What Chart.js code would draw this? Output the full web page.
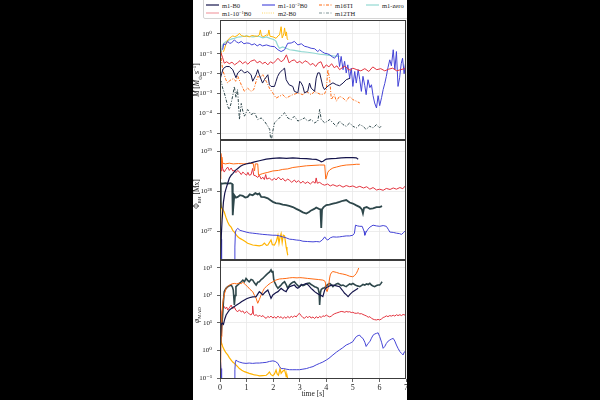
<!DOCTYPE html>
<html>
<head>
<meta charset="utf-8">
<script src="https://cdn.jsdelivr.net/npm/chart.js@4.4.1/dist/chart.umd.min.js"></script>
<style>
html, body { margin: 0; padding: 0; background: #000; width: 600px; height: 400px; overflow: hidden; }
#paper { position: absolute; left: 193px; top: 0; width: 214px; height: 400px; background: #fff; }
canvas { position: absolute; left: 193px; }
#c1 { top: 14px; }
#c2 { top: 134px; }
#c3 { top: 254px; }
#edge { position: absolute; left: 407px; top: 0; width: 193px; height: 400px; background: #000; z-index: 9; }
#legend { position: absolute; left: 203px; top: -2px; width: 215px; height: 19px; border: 1px solid #d4d4d4; border-radius: 2px; background: #fff; z-index: 3; }
.lg { position: absolute; font-family: "Liberation Serif", serif; font-size: 6.5px; line-height: 7px; color: #222; white-space: nowrap; }
.lg sup { font-size: 4.5px; line-height: 0; vertical-align: 2px; }
.sample { position: absolute; }
.ytitle { position: absolute; font-family: "Liberation Serif", serif; font-size: 7.5px; color: #222; white-space: nowrap; transform: translate(-50%, -50%) rotate(-90deg); z-index: 4; }
.ytitle sub { font-size: 5px; }
.ytitle sup { font-size: 5px; }
</style>
</head>
<body>
<div id="paper"></div>
<div id="legend"></div>
<canvas id="c1" width="216" height="130"></canvas>
<canvas id="c2" width="216" height="130"></canvas>
<canvas id="c3" width="216" height="146"></canvas>
<div class="ytitle" style="left:197px; top:80px;"><i>Ṁ</i> [<i>M</i><sub>⊙</sub> s<sup>−1</sup>]</div>
<div class="ytitle" style="left:197px; top:194px;">Φ<sub>BH</sub> [Mx]</div>
<div class="ytitle" style="left:197px; top:315px;"><i>φ</i><sub>MAD</sub></div>
<div id="edge"></div>
<script>
// accretion rate [Msun/s] vs time [s]
const mdot_m1B0 = [[0.0,5.0e-3],[0.06,1.0e-2],[0.12,1.8e-2],[0.23,2.3e-2],[0.35,2.3e-2],[0.48,1.6e-2],[0.6,6.3e-3],[0.67,1.1e-2],[0.8,1.6e-2],[0.92,1.1e-2],[1.04,1.3e-2],[1.17,8.9e-3],[1.23,4.2e-3],[1.36,8.9e-3],[1.42,1.6e-2],[1.48,8.9e-3],[1.6,3.4e-3],[1.67,5.0e-3],[1.8,8.9e-3],[1.86,2.8e-3],[1.92,2.3e-3],[2.05,2.3e-3],[2.11,4.2e-3],[2.17,7.4e-3],[2.24,1.1e-2],[2.36,1.6e-2],[2.43,1.9e-2],[2.49,5.0e-3],[2.6,2.8e-3],[2.74,2.3e-3],[2.8,1.3e-3],[2.93,1.1e-3],[3.0,4.2e-3],[3.06,3.4e-3],[3.12,2.3e-3],[3.18,1.1e-3],[3.3,1.3e-3],[3.37,3.4e-3],[3.43,1.9e-3],[3.56,1.3e-3],[3.62,6.0e-3],[3.68,1.1e-2],[3.75,1.1e-2],[3.87,2.3e-3],[3.93,1.6e-3],[4.03,2.2e-3],[4.13,2.8e-3],[4.25,3.5e-3],[4.38,2.8e-3],[4.5,2.5e-3],[4.63,3.4e-3],[4.75,5.0e-3],[4.9,6.0e-3]];
const mdot_m1B0e1 = [[0.0,5.0e-2],[0.04,1.1e-1],[0.1,6.3e-2],[0.16,3.4e-2],[0.25,4.0e-2],[0.35,3.2e-2],[0.45,3.8e-2],[0.55,2.8e-2],[0.65,3.5e-2],[0.75,4.5e-2],[0.85,3.2e-2],[0.95,4.0e-2],[1.05,3.0e-2],[1.15,4.2e-2],[1.3,5.0e-2],[1.4,3.5e-2],[1.5,4.2e-2],[1.6,3.2e-2],[1.7,3.8e-2],[1.8,2.8e-2],[1.9,4.0e-2],[2.0,3.3e-2],[2.1,4.5e-2],[2.18,6.0e-2],[2.3,4.0e-2],[2.4,5.0e-2],[2.5,8.9e-2],[2.6,3.5e-2],[2.7,4.5e-2],[2.8,5.0e-2],[2.9,3.5e-2],[3.0,4.2e-2],[3.1,3.3e-2],[3.2,4.5e-2],[3.3,3.8e-2],[3.4,2.8e-2],[3.5,3.3e-2],[3.6,2.3e-2],[3.7,3.5e-2],[3.8,4.0e-2],[3.9,1.9e-2],[4.0,2.8e-2],[4.1,2.2e-2],[4.2,3.2e-2],[4.3,2.0e-2],[4.4,2.5e-2],[4.5,1.6e-2],[4.6,2.0e-2],[4.7,2.4e-2],[4.8,1.8e-2],[4.9,1.5e-2],[5.0,1.9e-2],[5.15,1.6e-2],[5.3,1.4e-2],[5.45,1.8e-2],[5.6,1.3e-2],[5.75,2.2e-2],[5.9,1.6e-2],[6.05,1.8e-2],[6.2,1.4e-2],[6.35,1.7e-2],[6.5,1.9e-2],[6.65,1.4e-2],[6.8,1.6e-2],[6.95,1.8e-2],[7.0,2.0e-2]];
const mdot_m1B0e2 = [[0.1,0.16],[0.14,0.32],[0.2,0.28],[0.29,0.42],[0.35,0.35],[0.42,0.34],[0.54,0.5],[0.62,0.4],[0.7,0.35],[0.8,0.42],[0.9,0.32],[1.0,0.35],[1.1,0.34],[1.2,0.28],[1.3,0.32],[1.4,0.25],[1.5,0.3],[1.6,0.25],[1.75,0.28],[1.9,0.24],[2.05,0.23],[2.18,0.16],[2.3,0.13],[2.43,0.16],[2.55,0.34],[2.68,0.35],[2.8,0.42],[2.93,0.28],[3.06,0.32],[3.18,0.24],[3.3,0.22],[3.43,0.19],[3.56,0.18],[3.68,0.13],[3.75,0.16],[3.85,0.126],[3.94,0.107],[4.05,0.1],[4.13,0.089],[4.22,0.071],[4.31,0.06],[4.38,0.079],[4.44,0.107],[4.5,0.023],[4.56,0.074],[4.63,0.016],[4.69,0.042],[4.75,0.011],[4.81,0.028],[4.88,0.006],[4.94,0.019],[5.0,0.0023],[5.07,0.013],[5.13,0.0034],[5.2,0.016],[5.26,0.005],[5.32,0.0013],[5.38,0.0074],[5.45,0.0025],[5.5,0.00089],[5.57,0.005],[5.64,0.002],[5.7,0.0028],[5.76,0.00079],[5.82,0.00034],[5.89,0.00019],[5.95,0.00079],[6.01,0.00025],[6.08,0.00063],[6.14,0.0016],[6.2,0.0032],[6.26,0.0074],[6.32,0.02],[6.39,0.05],[6.45,0.025],[6.52,0.16],[6.58,0.016],[6.64,0.13],[6.7,0.0023],[6.76,0.0063],[6.82,0.032],[6.87,0.06],[6.93,0.01],[6.98,0.032],[7.02,0.016]];
const mdot_m16TI = [[0.0,1.6],[0.02,0.32],[0.05,0.05],[0.1,0.016],[0.16,0.0089],[0.22,0.005],[0.29,0.0034],[0.36,0.0045],[0.42,0.005],[0.5,0.0056],[0.6,0.0042],[0.67,0.0074],[0.8,0.0028],[0.92,0.0013],[1.04,0.0019],[1.17,0.0013],[1.27,0.0016],[1.36,0.0042],[1.42,0.0074],[1.5,0.0063],[1.61,0.0089],[1.74,0.0042],[1.86,0.0019],[1.99,0.00107],[2.11,0.0006],[2.24,0.00074],[2.36,0.00089],[2.49,0.0006],[2.62,0.00074],[2.74,0.00089],[2.93,0.00107],[3.12,0.00089],[3.25,0.0013],[3.43,0.00089],[3.56,0.0013],[3.68,0.00107],[3.8,0.00089],[3.94,0.001],[4.0,0.0016],[4.06,0.016],[4.13,0.005],[4.19,0.0005],[4.3,0.00089],[4.38,0.00042],[4.5,0.00074],[4.63,0.0006],[4.75,0.00042],[4.88,0.00074],[5.0,0.0005],[5.13,0.00042],[5.26,0.00034]];
const mdot_m12TH = [[0.0,5.0e-3],[0.05,4.0e-3],[0.1,1.9e-3],[0.16,1.1e-3],[0.23,5.0e-4],[0.29,2.3e-4],[0.35,1.6e-4],[0.42,3.4e-4],[0.48,7.9e-4],[0.54,2.3e-3],[0.6,6.3e-4],[0.66,1.6e-3],[0.7,2.5e-4],[0.73,5.0e-5],[0.8,3.2e-4],[0.86,1.3e-4],[0.92,7.4e-5],[1.04,1.6e-4],[1.17,8.9e-5],[1.3,1.1e-4],[1.42,5.0e-5],[1.55,6.0e-5],[1.67,4.2e-5],[1.8,2.3e-5],[1.87,1.6e-5],[1.92,3.2e-6],[1.97,1.0e-5],[2.05,3.4e-5],[2.18,5.0e-5],[2.3,7.4e-5],[2.43,1.1e-4],[2.55,6.0e-5],[2.68,5.0e-5],[2.8,7.4e-5],[2.93,4.2e-5],[3.06,5.0e-5],[3.18,6.0e-5],[3.3,4.2e-5],[3.43,5.0e-5],[3.56,3.4e-5],[3.68,4.2e-5],[3.75,1.6e-4],[3.81,5.0e-5],[3.94,3.4e-5],[4.05,4.2e-5],[4.13,5.0e-5],[4.25,3.4e-5],[4.38,2.3e-5],[4.5,4.2e-5],[4.63,2.8e-5],[4.75,2.3e-5],[4.88,3.4e-5],[5.0,2.3e-5],[5.13,1.9e-5],[5.26,2.8e-5],[5.38,2.3e-5],[5.5,1.6e-5],[5.63,2.3e-5],[5.76,1.9e-5],[5.89,2.8e-5],[6.0,1.9e-5],[6.06,2.3e-5]];
const mdot_m1zero = [[0.04,0.107],[0.1,0.28],[0.16,0.35],[0.23,0.42],[0.35,0.5],[0.45,0.56],[0.54,0.6],[0.65,0.68],[0.75,0.71],[0.86,0.74],[1.0,0.79],[1.1,0.74],[1.23,0.71],[1.35,0.76],[1.48,0.74],[1.61,0.63],[1.75,0.71],[1.88,0.6],[1.99,0.54],[2.05,0.5],[2.11,0.42],[2.18,0.25],[2.24,0.19],[2.36,0.22],[2.49,0.19],[2.62,0.16],[2.8,0.148],[3.06,0.13],[3.3,0.12],[3.56,0.107],[3.75,0.095],[4.0,0.089],[4.25,0.079],[4.5,0.074]];
const mdot_m2B0 = [[0.12,0.126],[0.16,0.16],[0.23,0.34],[0.3,0.5],[0.35,0.6],[0.42,0.71],[0.48,0.79],[0.55,0.74],[0.6,0.76],[0.68,0.89],[0.73,1.07],[0.8,0.83],[0.92,0.74],[1.0,0.79],[1.1,0.71],[1.2,0.83],[1.3,0.79],[1.4,0.76],[1.48,0.89],[1.52,1.58],[1.56,0.79],[1.65,0.74],[1.75,0.89],[1.8,0.83],[1.84,1.58],[1.88,0.76],[2.0,0.71],[2.11,0.6],[2.18,0.79],[2.24,0.89],[2.3,2.3],[2.34,0.63],[2.4,1.0],[2.43,2.0],[2.47,0.79],[2.5,1.26],[2.53,0.56],[2.56,0.5]];

// magnetic flux on the black hole [Mx]
const phi_m1B0 = [[0.02,2.0e26],[0.05,7.9e26],[0.08,2.0e27],[0.13,5.4e27],[0.18,8.9e27],[0.23,1.17e28],[0.29,1.58e28],[0.35,2.1e28],[0.42,2.5e28],[0.48,2.75e28],[0.58,3.3e28],[0.67,3.7e28],[0.77,4.2e28],[0.86,4.5e28],[1.04,4.9e28],[1.17,5.1e28],[1.3,5.4e28],[1.48,5.75e28],[1.74,6.3e28],[1.99,6.6e28],[2.24,6.8e28],[2.5,6.6e28],[2.74,6.8e28],[3.0,6.6e28],[3.25,6.5e28],[3.45,6.3e28],[3.62,6.2e28],[3.75,5.75e28],[3.81,5.4e28],[3.88,5.6e28],[3.94,6.0e28],[4.0,6.3e28],[4.19,6.5e28],[4.38,6.6e28],[4.56,6.8e28],[4.75,6.9e28],[5.0,6.9e28],[5.13,6.8e28],[5.2,6.3e28]];
const phi_m16TI = [[0.01,2.0e28],[0.03,8.9e28],[0.05,4.0e28],[0.07,7.1e28],[0.1,5.0e28],[0.2,4.8e28],[0.35,5.0e28],[0.5,4.8e28],[0.7,4.9e28],[0.9,4.8e28],[1.1,5.0e28],[1.25,4.9e28],[1.3,3.2e28],[1.33,4.8e28],[1.42,4.8e28],[1.45,2.5e28],[1.5,2.6e28],[1.61,2.75e28],[1.8,2.95e28],[1.99,3.2e28],[2.2,3.3e28],[2.36,3.5e28],[2.55,3.6e28],[2.74,3.9e28],[3.0,4.1e28],[3.25,4.3e28],[3.5,4.4e28],[3.75,4.5e28],[3.94,4.5e28],[3.98,2.0e28],[4.02,2.4e28],[4.06,3.0e28],[4.13,3.4e28],[4.25,3.8e28],[4.38,4.0e28],[4.56,4.3e28],[4.75,4.5e28],[5.0,4.6e28],[5.13,4.7e28],[5.26,4.7e28]];
const phi_m1B0e1 = [[0.01,4.0e28],[0.03,8.3e28],[0.05,3.2e28],[0.07,5.6e28],[0.1,3.7e28],[0.16,3.0e28],[0.22,3.5e28],[0.29,4.0e28],[0.35,3.3e28],[0.42,3.8e28],[0.48,3.2e28],[0.54,3.3e28],[0.6,2.9e28],[0.67,3.3e28],[0.73,3.0e28],[0.8,2.6e28],[0.86,3.0e28],[0.92,2.75e28],[1.0,2.5e28],[1.05,2.95e28],[1.1,2.5e28],[1.17,2.6e28],[1.23,3.7e28],[1.27,2.5e28],[1.35,2.4e28],[1.42,2.2e28],[1.48,2.5e28],[1.55,2.0e28],[1.61,2.24e28],[1.67,1.95e28],[1.72,2.6e28],[1.76,2.0e28],[1.86,2.14e28],[1.95,1.86e28],[2.05,2.1e28],[2.11,1.9e28],[2.2,2.24e28],[2.3,1.9e28],[2.36,2.1e28],[2.45,1.78e28],[2.55,2.0e28],[2.62,1.86e28],[2.7,1.66e28],[2.8,1.9e28],[2.87,1.66e28],[2.95,1.82e28],[3.05,1.58e28],[3.12,1.78e28],[3.2,1.55e28],[3.3,1.7e28],[3.4,1.51e28],[3.5,1.74e28],[3.58,1.58e28],[3.62,2.14e28],[3.66,1.58e28],[3.75,1.66e28],[3.85,1.48e28],[3.94,1.41e28],[4.05,1.51e28],[4.15,1.35e28],[4.25,1.45e28],[4.4,1.32e28],[4.5,1.41e28],[4.63,1.26e28],[4.75,1.38e28],[4.88,1.29e28],[5.0,1.35e28],[5.13,1.23e28],[5.26,1.32e28],[5.4,1.2e28],[5.52,1.29e28],[5.64,1.12e28],[5.76,1.23e28],[5.89,1.07e28],[6.01,1.12e28],[6.14,1.05e28],[6.26,1.17e28],[6.4,1.1e28],[6.52,1.2e28],[6.64,1.12e28],[6.77,1.23e28],[6.88,1.15e28],[6.96,1.32e28],[7.02,1.2e28]];
const phi_m12TH = [[0.01,4.0e27],[0.03,1.58e28],[0.1,1.55e28],[0.2,1.58e28],[0.3,1.55e28],[0.4,1.58e28],[0.46,1.51e28],[0.48,2.5e27],[0.5,4.0e27],[0.54,7.9e27],[0.6,6.9e27],[0.67,7.2e27],[0.75,7.9e27],[0.86,7.6e27],[0.95,6.9e27],[1.04,7.2e27],[1.12,8.3e27],[1.23,7.9e27],[1.33,8.9e27],[1.42,8.3e27],[1.48,8.7e27],[1.55,7.2e27],[1.67,7.1e27],[1.8,6.6e27],[1.9,5.9e27],[1.99,5.4e27],[2.1,5.0e27],[2.24,4.9e27],[2.36,4.6e27],[2.49,4.5e27],[2.6,4.3e27],[2.74,4.0e27],[2.87,3.6e27],[2.99,3.3e27],[3.12,2.95e27],[3.25,2.75e27],[3.35,3.0e27],[3.43,3.3e27],[3.55,3.6e27],[3.62,3.9e27],[3.72,3.6e27],[3.78,3.5e27],[3.81,1.2e27],[3.84,3.5e27],[3.9,4.0e27],[4.0,4.5e27],[4.12,4.6e27],[4.25,4.9e27],[4.38,5.1e27],[4.5,5.4e27],[4.62,5.75e27],[4.75,6.0e27],[4.88,5.2e27],[5.0,4.9e27],[5.13,4.4e27],[5.26,4.0e27],[5.34,3.5e27],[5.38,2.8e27],[5.42,3.8e27],[5.52,4.0e27],[5.64,3.6e27],[5.76,3.7e27],[5.89,4.0e27],[6.01,4.0e27],[6.1,4.2e27]];
const phi_m1B0e2 = [[0.02,1.0e27],[0.04,6.3e26],[0.06,1.0e26],[0.3,null],[0.54,1.0e26],[0.56,4.0e26],[0.58,9.5e26],[0.62,1.1e27],[0.67,1.17e27],[0.75,1.05e27],[0.86,1.0e27],[0.98,9.5e26],[1.1,9.1e26],[1.23,8.9e26],[1.36,8.7e26],[1.48,8.5e26],[1.61,8.3e26],[1.8,8.1e26],[1.99,7.9e26],[2.11,7.9e26],[2.24,7.6e26],[2.36,7.2e26],[2.49,6.8e26],[2.62,6.3e26],[2.74,6.2e26],[2.87,6.0e26],[3.0,5.9e26],[3.12,5.6e26],[3.3,5.5e26],[3.5,5.4e26],[3.62,5.5e26],[3.75,5.4e26],[3.85,6.0e26],[3.94,7.2e26],[4.0,6.3e26],[4.06,6.0e26],[4.15,6.8e26],[4.25,7.2e26],[4.38,7.1e26],[4.5,7.2e26],[4.62,7.4e26],[4.75,7.6e26],[4.88,7.6e26],[5.0,7.9e26],[5.06,8.9e26],[5.1,1.41e27],[5.18,1.35e27],[5.26,1.32e27],[5.35,1.32e27],[5.42,1.0e27],[5.45,7.9e26],[5.5,9.5e26],[5.57,1.12e27],[5.64,1.26e27],[5.76,1.41e27],[5.89,1.35e27],[6.01,1.32e27],[6.14,1.38e27],[6.26,1.32e27],[6.33,1.12e27],[6.39,9.5e26],[6.52,9.3e26],[6.64,8.9e26],[6.75,8.7e26],[6.83,8.3e26],[6.9,9.1e26],[6.96,1.0e27],[7.02,1.07e27]];
const phi_m2B0 = [[0.01,1.58e27],[0.03,5.0e27],[0.06,4.0e27],[0.1,3.5e27],[0.16,3.0e27],[0.22,2.24e27],[0.29,1.7e27],[0.35,1.41e27],[0.42,1.26e27],[0.48,1.05e27],[0.54,9.5e26],[0.6,8.3e26],[0.67,7.2e26],[0.75,6.6e26],[0.86,6.0e26],[0.95,5.5e26],[1.04,5.0e26],[1.15,4.7e26],[1.23,4.5e26],[1.35,4.4e26],[1.48,4.3e26],[1.6,4.5e26],[1.67,5.0e26],[1.75,4.4e26],[1.8,4.5e26],[1.86,5.2e26],[1.92,6.0e26],[1.97,4.6e26],[2.05,4.5e26],[2.12,5.6e26],[2.18,7.9e26],[2.22,5.0e26],[2.26,7.1e26],[2.3,8.7e26],[2.34,5.2e26],[2.38,7.9e26],[2.43,7.6e26],[2.47,5.0e26],[2.49,4.0e26],[2.52,3.2e26],[2.55,2.5e26]];

// MAD parameter
const mad_m1B0 = [[0.02,3.2],[0.04,8.5],[0.08,10],[0.13,8.9],[0.18,14],[0.23,19.5],[0.29,24],[0.35,29.5],[0.45,35],[0.54,40],[0.64,46],[0.73,52],[0.82,60],[0.92,69],[1.0,76],[1.1,83],[1.23,89],[1.36,91],[1.42,112],[1.48,138],[1.55,120],[1.61,105],[1.7,132],[1.8,158],[1.86,112],[1.92,79],[1.99,105],[2.1,126],[2.18,138],[2.3,182],[2.4,151],[2.49,138],[2.55,178],[2.62,209],[2.7,224],[2.8,240],[2.87,200],[2.93,182],[3.0,209],[3.06,240],[3.15,251],[3.25,275],[3.35,224],[3.43,182],[3.5,158],[3.56,138],[3.65,120],[3.75,105],[3.81,100],[3.87,91],[3.94,158],[4.0,191],[4.06,209],[4.15,229],[4.25,240],[4.38,224],[4.5,209],[4.6,158],[4.69,120],[4.76,105],[4.82,91],[4.9,112],[5.0,138],[5.1,158],[5.2,182]];
const mad_m16TI = [[0.02,0.126],[0.04,3.2],[0.07,20],[0.1,50],[0.13,79],[0.18,126],[0.23,182],[0.29,209],[0.35,240],[0.45,263],[0.54,275],[0.63,263],[0.73,282],[0.8,269],[0.86,302],[0.95,251],[1.04,209],[1.13,166],[1.23,138],[1.3,100],[1.36,79],[1.42,52],[1.48,71],[1.55,105],[1.61,141],[1.67,182],[1.74,209],[1.8,240],[1.9,282],[1.99,316],[2.1,363],[2.24,398],[2.36,407],[2.49,417],[2.62,437],[2.74,447],[2.9,437],[3.0,447],[3.12,437],[3.3,417],[3.5,398],[3.7,380],[3.87,363],[3.94,339],[3.97,282],[4.0,158],[4.03,138],[4.08,200],[4.12,398],[4.15,562],[4.2,692],[4.25,741],[4.38,692],[4.5,631],[4.62,603],[4.75,562],[4.88,501],[5.0,479],[5.06,525],[5.13,631],[5.18,794],[5.22,1000]];
const mad_m12TH = [[0.02,1.58],[0.06,6.3],[0.1,19.5],[0.13,63],[0.16,138],[0.22,178],[0.29,209],[0.35,224],[0.42,240],[0.47,200],[0.5,158],[0.54,45],[0.57,100],[0.6,209],[0.67,240],[0.73,275],[0.8,316],[0.86,363],[0.92,316],[0.98,417],[1.04,355],[1.1,316],[1.17,380],[1.23,363],[1.3,282],[1.36,240],[1.42,302],[1.48,316],[1.55,380],[1.61,417],[1.67,479],[1.74,562],[1.8,631],[1.86,708],[1.92,851],[1.96,708],[1.99,794],[2.02,398],[2.05,316],[2.12,224],[2.18,182],[2.24,209],[2.3,240],[2.36,282],[2.43,316],[2.49,251],[2.55,182],[2.62,240],[2.68,275],[2.74,302],[2.8,316],[2.87,263],[2.93,229],[2.99,209],[3.06,251],[3.12,229],[3.18,240],[3.25,263],[3.3,275],[3.37,282],[3.43,251],[3.5,229],[3.56,209],[3.62,200],[3.69,182],[3.73,126],[3.75,45],[3.78,126],[3.81,166],[3.87,182],[3.94,191],[4.0,224],[4.06,251],[4.13,275],[4.2,240],[4.25,209],[4.32,240],[4.38,263],[4.44,275],[4.5,251],[4.56,229],[4.63,240],[4.7,219],[4.75,209],[4.82,240],[4.88,263],[4.94,251],[5.0,275],[5.06,251],[5.13,229],[5.2,219],[5.26,209],[5.32,229],[5.38,251],[5.45,240],[5.52,263],[5.58,251],[5.64,275],[5.7,240],[5.76,219],[5.82,209],[5.89,229],[5.95,240],[6.01,240],[6.06,275],[6.1,316]];
const mad_m1B0e1 = [[0.02,2.0],[0.04,7.9],[0.07,25.1],[0.1,33.9],[0.13,41.7],[0.16,39.8],[0.2,33.1],[0.25,38.0],[0.29,29.5],[0.35,35.5],[0.42,44.7],[0.48,33.1],[0.54,38.0],[0.6,28.8],[0.67,25.7],[0.73,30.2],[0.8,25.1],[0.86,27.5],[0.92,22.4],[1.0,26.3],[1.05,24.0],[1.11,20.9],[1.17,19.5],[1.21,22.9],[1.23,41.7],[1.26,20.9],[1.3,18.6],[1.36,20.0],[1.43,17.4],[1.5,19.1],[1.55,17.0],[1.62,18.6],[1.68,15.8],[1.74,14.8],[1.8,17.4],[1.86,15.8],[1.92,17.8],[1.99,15.1],[2.05,17.0],[2.11,14.8],[2.18,17.8],[2.24,15.5],[2.3,17.0],[2.36,14.5],[2.43,16.6],[2.49,14.8],[2.55,17.4],[2.62,15.1],[2.68,17.8],[2.74,15.8],[2.8,18.2],[2.87,16.6],[2.93,20.0],[2.99,22.4],[3.06,18.2],[3.12,15.8],[3.18,14.8],[3.25,17.4],[3.31,15.5],[3.37,17.8],[3.43,15.1],[3.5,16.6],[3.56,14.5],[3.62,17.0],[3.69,15.1],[3.75,17.4],[3.81,15.8],[3.87,18.2],[3.94,17.4],[4.0,19.5],[4.06,17.8],[4.13,16.6],[4.19,17.8],[4.25,20.0],[4.32,21.9],[4.38,22.9],[4.44,24.0],[4.5,25.1],[4.56,26.3],[4.63,25.7],[4.7,24.5],[4.75,26.3],[4.82,25.1],[4.88,25.7],[4.94,24.0],[5.0,24.5],[5.06,22.9],[5.13,22.4],[5.2,23.4],[5.26,21.4],[5.32,21.9],[5.38,20.4],[5.45,19.1],[5.52,17.8],[5.58,16.2],[5.64,17.0],[5.7,14.8],[5.76,13.8],[5.82,13.2],[5.89,12.9],[5.95,13.5],[6.01,12.9],[6.08,14.1],[6.14,15.8],[6.2,16.6],[6.26,18.2],[6.32,17.0],[6.39,18.6],[6.45,17.8],[6.52,19.1],[6.58,17.8],[6.64,20.0],[6.7,18.6],[6.77,20.0],[6.83,18.6],[6.89,20.4],[6.96,19.5],[7.02,21.4]];
const mad_m1B0e2 = [[0.02,0.4],[0.04,0.22],[0.06,0.05],[0.3,null],[0.54,0.05],[0.56,0.2],[0.58,0.4],[0.6,0.45],[0.67,0.4],[0.73,0.38],[0.86,0.35],[0.98,0.34],[1.1,0.35],[1.23,0.34],[1.36,0.35],[1.48,0.35],[1.61,0.36],[1.74,0.37],[1.86,0.4],[1.99,0.42],[2.08,0.4],[2.18,0.34],[2.24,0.26],[2.3,0.22],[2.4,0.22],[2.49,0.21],[2.62,0.2],[2.74,0.2],[2.87,0.2],[2.99,0.2],[3.12,0.21],[3.25,0.22],[3.37,0.24],[3.5,0.26],[3.62,0.3],[3.75,0.34],[3.87,0.38],[4.0,0.45],[4.1,0.52],[4.25,0.69],[4.38,0.87],[4.5,1.05],[4.62,1.26],[4.75,1.58],[4.88,1.8],[5.0,2.1],[5.06,2.6],[5.13,3.2],[5.2,3.5],[5.26,3.6],[5.32,3.0],[5.38,2.75],[5.45,2.0],[5.5,1.4],[5.57,1.8],[5.64,2.1],[5.7,2.8],[5.76,3.6],[5.83,4.0],[5.89,4.2],[5.95,4.4],[6.01,3.2],[6.08,2.0],[6.14,1.2],[6.2,1.4],[6.26,1.8],[6.33,2.2],[6.39,2.4],[6.45,2.6],[6.52,2.75],[6.58,2.2],[6.64,1.58],[6.7,1.2],[6.77,0.91],[6.83,0.79],[6.89,0.69],[6.94,0.89],[7.02,1.05]];
const mad_m2B0 = [[0.02,1.58],[0.04,2.1],[0.1,1.4],[0.16,1.05],[0.22,0.83],[0.29,0.69],[0.35,0.55],[0.42,0.45],[0.48,0.38],[0.54,0.34],[0.63,0.28],[0.73,0.22],[0.82,0.19],[0.92,0.17],[1.0,0.16],[1.1,0.148],[1.2,0.138],[1.3,0.129],[1.4,0.126],[1.48,0.12],[1.6,0.123],[1.74,0.126],[1.8,0.141],[1.86,0.166],[1.92,0.132],[1.99,0.12],[2.05,0.141],[2.11,0.195],[2.15,0.141],[2.2,0.126],[2.26,0.22],[2.3,0.148],[2.36,0.178],[2.43,0.195],[2.47,0.141],[2.49,0.112],[2.52,0.126],[2.55,0.091]];

const modelKeys = ['m1B0', 'm1B0e2', 'm16TI', 'm1zero', 'm1B0e1', 'm2B0', 'm12TH'];
const modelLabels = ['m1-B0', 'm1-10<sup>−2</sup>B0', 'm16TI', 'm1-zero', 'm1-10<sup>−1</sup>B0', 'm2-B0', 'm12TH'];

const SERIF = '"Liberation Serif", "DejaVu Serif", serif';
const GRID = '#e8e8e8';
const DASHDOT = [3, 1.5, 1, 1.5];

const styles = {
  m1B0:   { color: '#15154c', legend: '#15154c' },
  m1B0e2: { color: '#4444d6', legend: '#4f4fde' },
  m16TI:  { color: '#ff6a12', legend: '#ff6a12', dash: DASHDOT },
  m1zero: { color: '#92d8d2', legend: '#92d8d2' },
  m1B0e1: { color: '#e3343f', legend: '#f2a1a7' },
  m2B0:   { color: '#ffb300', legend: '#ffd866', dash: [1, 1.2] },
  m12TH:  { color: '#2e474b', legend: '#7f9496', dash: DASHDOT }
};

// legend built from the labels above
const legendCols = [206, 262, 319, 366];
const legendRows = [5, 13];
const legendEl = document.getElementById('legend');
modelKeys.forEach((key, i) => {
  const col = i % 4, row = Math.floor(i / 4);
  const st = styles[key];
  const x = legendCols[col] - 204, y = legendRows[row] + 1;
  const dash = st.dash ? `stroke-dasharray="${st.dash.join(',')}"` : '';
  legendEl.insertAdjacentHTML('beforeend',
    `<svg class="sample" style="left:${x}px;top:${y - 2}px" width="13" height="4"><line x1="0" y1="2" x2="13" y2="2" stroke="${st.legend}" stroke-width="1.2" ${dash}/></svg>` +
    `<span class="lg" style="left:${x + 16}px;top:${y - 3.5}px">${modelLabels[i]}</span>`);
});

const SUP = { '-': '⁻', '0': '⁰', '1': '¹', '2': '²', '3': '³', '4': '⁴', '5': '⁵', '6': '⁶', '7': '⁷', '8': '⁸', '9': '⁹' };
function isDecade(v) {
  const e = Math.log10(v);
  return Math.abs(e - Math.round(e)) < 1e-6;
}
function decadeLabel(v) {
  const e = Math.round(Math.log10(v));
  return '10' + String(e).split('').map(c => SUP[c]).join('');
}

const frame = {
  id: 'frame',
  afterDraw(chart) {
    const { ctx, chartArea: a } = chart;
    ctx.save();
    ctx.strokeStyle = '#3c3c3c';
    ctx.lineWidth = 1;
    ctx.strokeRect(a.left + 0.5, a.top + 0.5, a.right - a.left - 1, a.bottom - a.top - 1);
    ctx.restore();
  }
};

function line(data, key, opts = {}) {
  const st = styles[key];
  return Object.assign({
    data,
    borderColor: st.color,
    borderWidth: 1,
    borderDash: [],
    pointRadius: 0,
    tension: 0,
    spanGaps: false
  }, opts);
}

function panel(id, datasets, yMin, yMax, bottom) {
  return new Chart(document.getElementById(id), {
    type: 'line',
    data: { datasets },
    options: {
      responsive: false,
      animation: false,
      events: [],
      layout: { padding: { top: 6, right: 3, bottom: bottom ? 0 : 4, left: 0 } },
      plugins: { legend: { display: false }, tooltip: { enabled: false } },
      scales: {
        x: {
          type: 'linear', min: 0, max: 7,
          border: { display: false },
          grid: { color: GRID, lineWidth: 0.8, drawTicks: bottom, tickLength: 3, tickColor: '#3c3c3c' },
          ticks: { display: bottom, stepSize: 1, padding: 1, color: '#222', font: { family: SERIF, size: 8 } },
          title: { display: bottom, text: 'time [s]', color: '#222', padding: { top: 0, bottom: 1 }, font: { family: SERIF, size: 7.5 } },
          afterFit: s => { s.height = bottom ? 21 : 0; s.paddingLeft = 0; s.paddingRight = 0; }
        },
        y: {
          type: 'logarithmic', min: yMin, max: yMax,
          border: { display: false },
          grid: { color: GRID, lineWidth: 0.8, tickLength: 3, tickColor: '#3c3c3c' },
          afterBuildTicks: s => { s.ticks = s.ticks.filter(t => isDecade(t.value)); },
          ticks: { callback: v => decadeLabel(v), padding: 5, color: '#222', font: { family: SERIF, size: 7 } },
          afterFit: s => { s.width = 27; s.paddingTop = 0; s.paddingBottom = 0; }
        }
      }
    },
    plugins: [frame]
  });
}

panel('c1', [
  line(mdot_m1B0, 'm1B0'),
  line(mdot_m16TI, 'm16TI', { borderDash: DASHDOT }),
  line(mdot_m12TH, 'm12TH', { borderDash: DASHDOT }),
  line(mdot_m1B0e1, 'm1B0e1'),
  line(mdot_m1B0e2, 'm1B0e2'),
  line(mdot_m2B0, 'm2B0'),
  line(mdot_m1zero, 'm1zero', { borderWidth: 1.2 })
], 4.7e-6, 5.0, false);

panel('c2', [
  line(phi_m1B0, 'm1B0', { borderWidth: 1.2 }),
  line(phi_m16TI, 'm16TI'),
  line(phi_m12TH, 'm12TH', { borderWidth: 1.8 }),
  line(phi_m1B0e1, 'm1B0e1'),
  line(phi_m1B0e2, 'm1B0e2'),
  line(phi_m2B0, 'm2B0', { borderWidth: 1.2 })
], 1.9e26, 1.9e29, false);

panel('c3', [
  line(mad_m1B0, 'm1B0', { borderWidth: 1.2 }),
  line(mad_m16TI, 'm16TI'),
  line(mad_m12TH, 'm12TH', { borderWidth: 1.6 }),
  line(mad_m1B0e1, 'm1B0e1'),
  line(mad_m1B0e2, 'm1B0e2'),
  line(mad_m2B0, 'm2B0', { borderWidth: 1.2 })
], 0.092, 1950, true);
</script>
</body>
</html>
